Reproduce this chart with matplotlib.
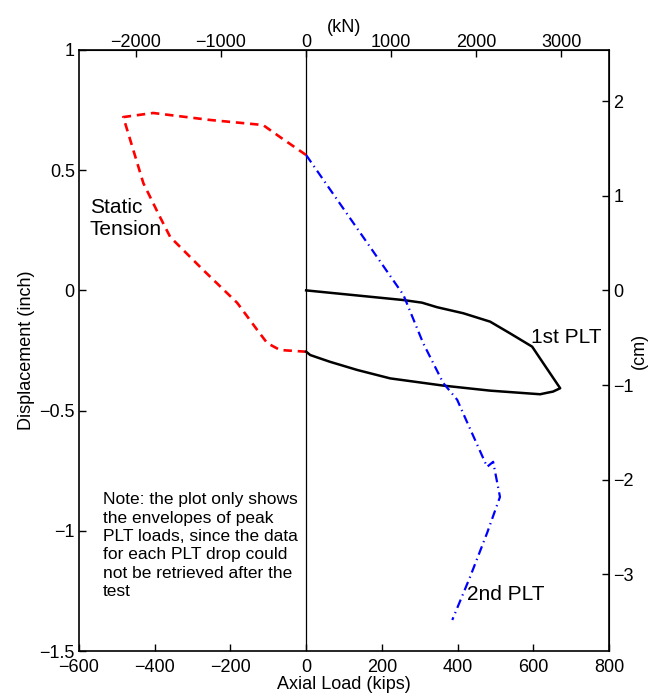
import matplotlib
matplotlib.use("Agg")
import matplotlib.pyplot as plt

plt.rcParams['font.family'] = ['Liberation Sans', 'DejaVu Sans']
plt.rcParams['axes.unicode_minus'] = True

# Static tension (kips, inch)
tension_load = [0, -69, -103, -129, -182, -272, -359, -386, -430, -483, -404, -254, -114, -69, 0]
tension_disp = [-0.255, -0.248, -0.219, -0.165, -0.052, 0.085, 0.222, 0.305, 0.446, 0.721, 0.738, 0.709, 0.688, 0.638, 0.563]

# 1st PLT envelope
plt1_load = [0, 256, 306, 346, 415, 486, 539, 597, 626, 671, 652, 639, 618, 486, 362, 222, 135, 63, 11, 0]
plt1_disp = [0.0, -0.040, -0.051, -0.070, -0.095, -0.130, -0.179, -0.234, -0.302, -0.407,
             -0.421, -0.425, -0.432, -0.417, -0.396, -0.366, -0.331, -0.297, -0.269, -0.255]

# 2nd PLT envelope
plt2_load = [0, 257, 309, 362, 399, 420, 478, 494, 512, 478, 433, 386]
plt2_disp = [0.563, -0.019, -0.219, -0.385, -0.455, -0.530, -0.734, -0.713, -0.859, -1.009, -1.192, -1.371]

x_ticks = [-600, -400, -200, 0, 200, 400, 600, 800]
y_ticks = [-1.5, -1, -0.5, 0, 0.5, 1]
kn_ticks = [-2000, -1000, 0, 1000, 2000, 3000]
cm_ticks = [-3, -2, -1, 0, 1, 2]

KIP_TO_KN = 4.448
IN_TO_CM = 2.54


def fmt(v):
    s = ('%g' % abs(v))
    return ('\u2212' + s) if v < 0 else s


fig = plt.figure(figsize=(6.59, 7.0), dpi=100)
ax = fig.add_axes([79/659, 49/700, 530/659, 601/700])

ax.axvline(0, color='black', lw=0.9, zorder=1)
ax.plot(tension_load, tension_disp, color='red', lw=1.9, linestyle=(0, (3.2, 2.2)), zorder=3)
ax.plot(plt1_load, plt1_disp, color='black', lw=1.8, zorder=3)
ax.plot(plt2_load, plt2_disp, color='blue', lw=1.6, linestyle=(0, (4, 2, 0.6, 2)), zorder=3)

ax.set_xlim(-600, 800)
ax.set_ylim(-1.5, 1)
ax.set_xticks(x_ticks)
ax.set_yticks(y_ticks)
ax.set_xticklabels([fmt(v) for v in x_ticks])
ax.set_yticklabels([fmt(v) for v in y_ticks])
ax.tick_params(direction='in', length=5, width=1, labelsize=13)
ax.tick_params(axis='x', pad=6)
ax.tick_params(axis='y', pad=3)
ax.tick_params(axis='both', top=False, right=False)
for s in ax.spines.values():
    s.set_linewidth(1.2)

ax.set_xlabel('Axial Load (kips)', fontsize=13, labelpad=0)
ax.set_ylabel('Displacement (inch)', fontsize=13, labelpad=3)

top = ax.secondary_xaxis('top', functions=(lambda x: x * KIP_TO_KN, lambda x: x / KIP_TO_KN))
top.set_xticks(kn_ticks)
top.set_xticklabels([fmt(v) for v in kn_ticks])
top.tick_params(direction='in', length=5, width=1, labelsize=13, pad=-1)
top.set_xlabel('(kN)', fontsize=13, labelpad=2)

right = ax.secondary_yaxis('right', functions=(lambda y: y * IN_TO_CM, lambda y: y / IN_TO_CM))
right.set_yticks(cm_ticks)
right.set_yticklabels([fmt(v) for v in cm_ticks])
right.tick_params(direction='in', length=5, width=1, labelsize=13, pad=3)
right.set_ylabel('(cm)', fontsize=13, labelpad=-2)

ax.text(-571, 0.301, 'Static\nTension', fontsize=15, ha='left', va='center', linespacing=1.2)
ax.text(594, -0.198, '1st PLT', fontsize=15, ha='left', va='center')
ax.text(425, -1.263, '2nd PLT', fontsize=15, ha='left', va='center')
ax.text(-536, -0.84,
        'Note: the plot only shows\nthe envelopes of peak\nPLT loads, since the data\n'
        'for each PLT drop could\nnot be retrieved after the\ntest',
        fontsize=12.5, ha='left', va='top', linespacing=1.28)

fig.savefig('out.png', dpi=100)
